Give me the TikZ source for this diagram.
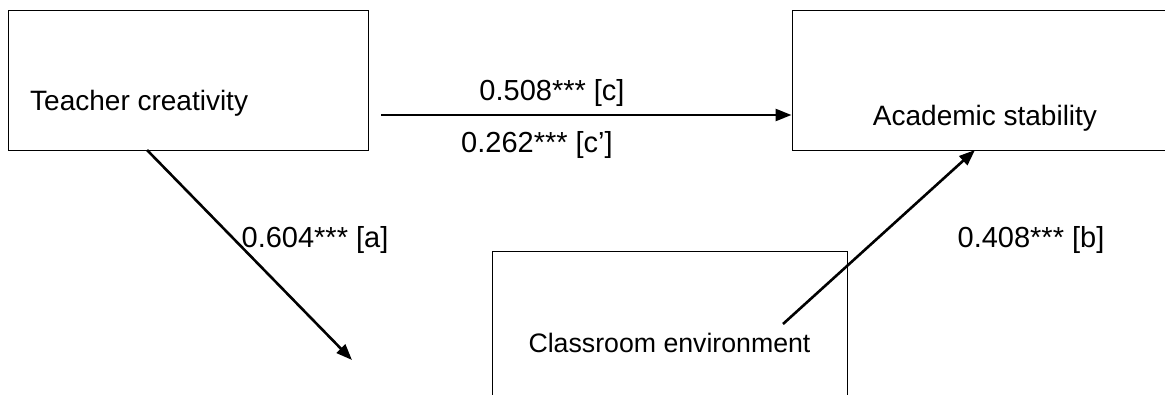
\documentclass[tikz,border=0pt]{standalone}
\usepackage{fontspec}
\setmainfont{Liberation Sans}
\usetikzlibrary{arrows.meta}

\begin{document}
\begin{tikzpicture}[x=1pt, y=-1pt,
  box/.style = {draw, line width=1pt, rectangle, minimum width=#1, inner sep=0pt},
  boxtext/.style = {inner sep=0pt, font=\fontsize{28}{31}\selectfont},
  coef/.style = {inner sep=0pt, font=\fontsize{29}{32}\selectfont},
  path/.style = {line width=2.6pt, -{Triangle[length=16pt,width=12pt]}},
  ]
  \useasboundingbox[fill=white] (0,0) rectangle (1165,394);
  \node[box=360pt, minimum height=140pt] (tc) at (188,80) {};
  \node[box=386pt, minimum height=140pt] (as) at (985,80) {};
  \node[box=355pt, minimum height=160pt] (ce) at (669.5,331) {};
  \node[boxtext, anchor=west] (tclab) at (30,103) {Teacher creativity};
  \node[boxtext] (aslab) at (985,118) {Academic stability};
  \node[boxtext, font=\fontsize{26.7}{30}\selectfont] (celab) at (669.5,343) {Classroom environment};
  \coordinate (cstart) at (381,115);
  \coordinate (astart) at (147,150);
  \coordinate (aend) at (352,360);
  \coordinate (bstart) at (783,324);
  \coordinate (bend) at (975,150);
  \draw[path] (cstart) -- (cstart -| as.west);
  \draw[path] (astart) -- (aend);
  \draw[path] (bstart) -- (bend);
  \node[coef] (c) at (552,93) {0.508*** [c]};
  \node[coef] (cp) at (537,145) {0.262*** [c’]};
  \node[coef] (a) at (315,240) {0.604*** [a]};
  \node[coef] (b) at (1031,240) {0.408*** [b]};
\end{tikzpicture}
\end{document}
